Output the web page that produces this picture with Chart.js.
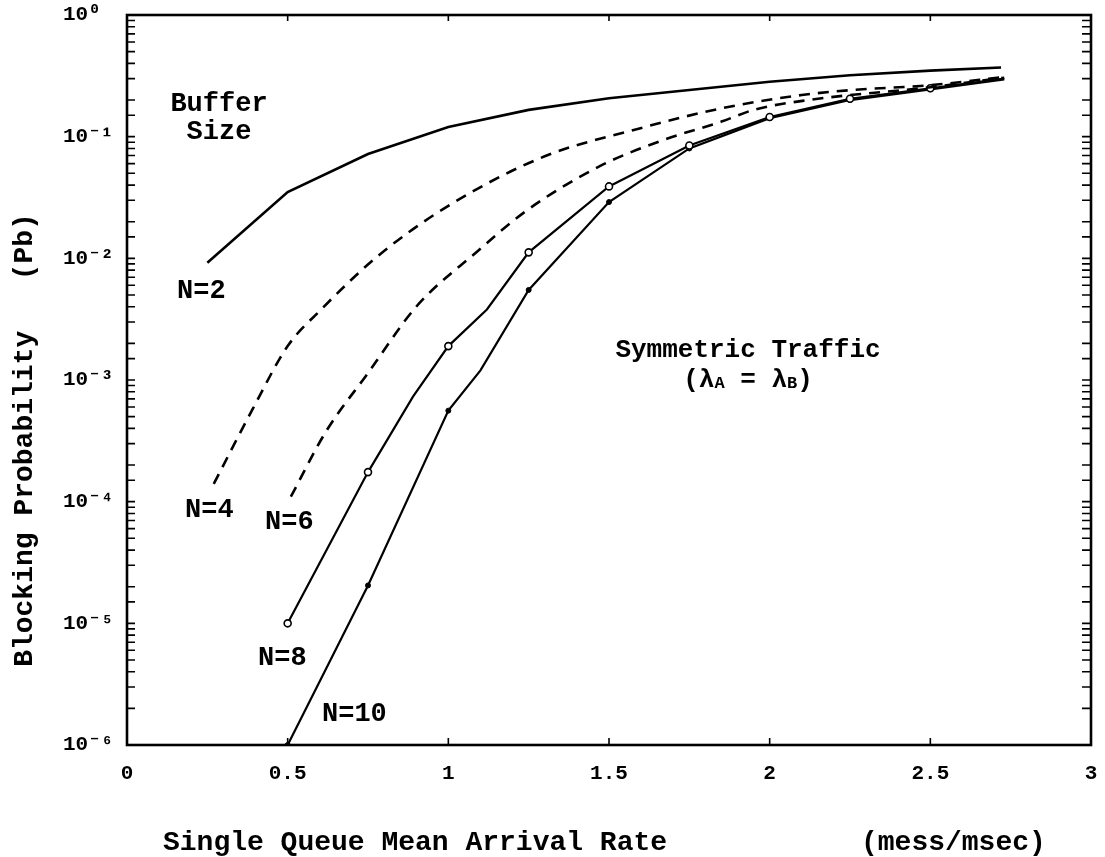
<!DOCTYPE html>
<html><head><meta charset="utf-8">
<script src="https://cdn.jsdelivr.net/npm/chart.js@4.4.1/dist/chart.umd.min.js"></script>
<style>html,body{margin:0;padding:0;background:#fff}#wrap{width:1105px;height:857px}</style>
</head><body><div id="wrap"><canvas id="c" width="1105" height="857"></canvas></div>
<script>
// ---- tick labels ----
const xTickLabels = ['0','0.5','1','1.5','2','2.5','3'];
const yTickLabels = ['10\u207B\u2076','10\u207B\u2075','10\u207B\u2074','10\u207B\u00B3','10\u207B\u00B2','10\u207B\u00B9','10\u2070'];

// ---- series (x = arrival rate, y = blocking probability) ----
const n2X  = [0.25, 0.5, 0.75, 1.0, 1.25, 1.5, 1.75, 2.0, 2.25, 2.5, 2.72];
const n2Y  = [0.0092, 0.035, 0.072, 0.12, 0.166, 0.207, 0.242, 0.283, 0.32, 0.349, 0.37];

const n4X  = [0.27, 0.39, 0.5, 0.6, 0.78, 1.0, 1.3, 1.58, 1.85, 2.1, 2.26, 2.5, 2.73];
const n4Y  = [1.4e-4, 5.7e-4, 1.9e-3, 3.7e-3, 1.04e-2, 0.027, 0.069, 0.114, 0.171, 0.22, 0.242, 0.265, 0.31];

const n6X  = [0.51, 0.62, 0.75, 0.9, 1.09, 1.24, 1.47, 1.67, 1.85, 1.95, 2.12, 2.5, 2.73];
const n6Y  = [1.1e-4, 3.8e-4, 1.14e-3, 4.0e-3, 0.0114, 0.0243, 0.057, 0.094, 0.133, 0.166, 0.2, 0.255, 0.305];

const n8X  = [0.5, 0.75, 0.89, 1.0, 1.12, 1.25, 1.5, 1.75, 2.0, 2.25, 2.5, 2.73];
const n8Y  = [1.0e-5, 1.75e-4, 7.3e-4, 1.9e-3, 3.8e-3, 0.0112, 0.039, 0.0845, 0.145, 0.205, 0.25, 0.30];

const n10X = [0.5, 0.75, 1.0, 1.1, 1.25, 1.5, 1.75, 2.0, 2.25, 2.5, 2.73];
const n10Y = [1.0e-6, 2.05e-5, 5.6e-4, 1.2e-3, 5.5e-3, 0.029, 0.080, 0.142, 0.20, 0.245, 0.295];

const pts = (xs, ys) => xs.map((v, i) => ({x: v, y: ys[i]}));
const onGrid = ctx => { const v = ctx.raw ? ctx.raw.x : 0; return Math.abs(v * 4 - Math.round(v * 4)) < 1e-6; };

const MONO = '"Liberation Mono", "DejaVu Sans Mono", monospace';

const framePlugin = {
  id: 'frame',
  afterDraw(chart) {
    const {ctx, chartArea: a, scales: {x, y}} = chart;
    ctx.save();
    ctx.strokeStyle = '#000';
    ctx.fillStyle = '#000';
    ctx.lineWidth = 2.6;
    ctx.strokeRect(a.left, a.top, a.right - a.left, a.bottom - a.top);
    ctx.lineWidth = 1.6;
    ctx.beginPath();
    y.ticks.forEach(t => {
      const p = y.getPixelForValue(t.value);
      if (p < a.top + 1 || p > a.bottom - 1) return;
      ctx.moveTo(a.left, p); ctx.lineTo(a.left + 8, p);
      ctx.moveTo(a.right, p); ctx.lineTo(a.right - 9, p);
    });
    x.ticks.forEach(t => {
      if (t.value <= 0 || t.value >= 3) return;
      const p = x.getPixelForValue(t.value);
      ctx.moveTo(p, a.bottom); ctx.lineTo(p, a.bottom - 7);
      ctx.moveTo(p, a.top); ctx.lineTo(p, a.top + 6);
    });
    ctx.stroke();

    ctx.textBaseline = 'middle';
    // axis titles
    ctx.font = 'bold 28px ' + MONO;
    ctx.textAlign = 'left';
    ctx.fillText('Single Queue Mean Arrival Rate', 163, 843);
    ctx.fillText('(mess/msec)', 861, 843);
    ctx.save();
    ctx.translate(25, 440);
    ctx.rotate(-Math.PI / 2);
    ctx.textAlign = 'center';
    ctx.fillText('Blocking Probability   (Pb)', 0, 0);
    ctx.restore();

    // annotations
    ctx.font = 'bold 27px ' + MONO;
    ctx.textAlign = 'center';
    ctx.fillText('Buffer', 219, 104);
    ctx.fillText('Size', 219, 132);
    ctx.textAlign = 'left';
    ctx.fillText('N=2', 177, 291);
    ctx.fillText('N=4', 185, 510);
    ctx.fillText('N=6', 265, 522);
    ctx.fillText('N=8', 258, 658);
    ctx.fillText('N=10', 322, 714);

    ctx.font = 'bold 26px ' + MONO;
    ctx.textAlign = 'center';
    ctx.fillText('Symmetric Traffic', 748, 350);
    // (λA = λB) with small A/B
    const parts = [['(\u03BB', 26], ['A', 17], [' = \u03BB', 26], ['B', 17], [')', 26]];
    let total = 0;
    parts.forEach(p => { ctx.font = 'bold ' + p[1] + 'px ' + MONO; total += ctx.measureText(p[0]).width; });
    let cx = 748 - total / 2;
    ctx.textAlign = 'left';
    parts.forEach(p => {
      ctx.font = 'bold ' + p[1] + 'px ' + MONO;
      ctx.fillText(p[0], cx, p[1] < 20 ? 384 : 380);
      cx += ctx.measureText(p[0]).width;
    });
    ctx.restore();
  }
};

const zeroPad = s => { s.paddingTop = 0; s.paddingBottom = 0; s.paddingLeft = 0; s.paddingRight = 0; };

new Chart(document.getElementById('c'), {
  type: 'line',
  data: {
    datasets: [
      {label: 'N=2', data: pts(n2X, n2Y), borderColor: '#000', borderWidth: 2.6, pointRadius: 0, tension: 0},
      {label: 'N=4', data: pts(n4X, n4Y), borderColor: '#000', borderWidth: 2.6, borderDash: [11, 8], pointRadius: 0, cubicInterpolationMode: 'monotone'},
      {label: 'N=6', data: pts(n6X, n6Y), borderColor: '#000', borderWidth: 2.6, borderDash: [11, 8], pointRadius: 0, cubicInterpolationMode: 'monotone'},
      {label: 'N=8', data: pts(n8X, n8Y), borderColor: '#000', borderWidth: 2.2, tension: 0,
        pointRadius: ctx => onGrid(ctx) ? 3.5 : 0, pointBackgroundColor: '#fff', pointBorderColor: '#000', pointBorderWidth: 1.6},
      {label: 'N=10', data: pts(n10X, n10Y), borderColor: '#000', borderWidth: 2.2, tension: 0,
        pointRadius: ctx => onGrid(ctx) ? 2.5 : 0, pointBackgroundColor: '#000', pointBorderColor: '#000', pointBorderWidth: 1}
    ]
  },
  options: {
    responsive: false,
    animation: false,
    devicePixelRatio: 1,
    layout: {padding: {top: 15, right: 14, left: 63, bottom: 0}},
    plugins: {legend: {display: false}, tooltip: {enabled: false}},
    scales: {
      x: {
        type: 'linear', min: 0, max: 3,
        grid: {display: false, drawTicks: false}, border: {display: false},
        ticks: {stepSize: 0.5, color: '#000', padding: 16, font: {family: MONO, size: 21, weight: 'bold'},
          callback: v => { const i = Math.round(v * 2); return (Math.abs(v * 2 - i) < 1e-6) ? xTickLabels[i] : ''; }},
        afterFit: s => { s.height = 112; zeroPad(s); }
      },
      y: {
        type: 'logarithmic', min: 1e-6, max: 1,
        grid: {display: false, drawTicks: false}, border: {display: false},
        ticks: {autoSkip: false, crossAlign: 'far', color: '#000', padding: 10, font: {family: MONO, size: 21, weight: 'bold'},
          callback: v => { const e = Math.log10(v); const r = Math.round(e); return Math.abs(e - r) < 1e-9 ? yTickLabels[r + 6] : ''; }},
        afterFit: s => { s.width = 64; zeroPad(s); }
      }
    }
  },
  plugins: [framePlugin]
});
</script>
</body></html>
